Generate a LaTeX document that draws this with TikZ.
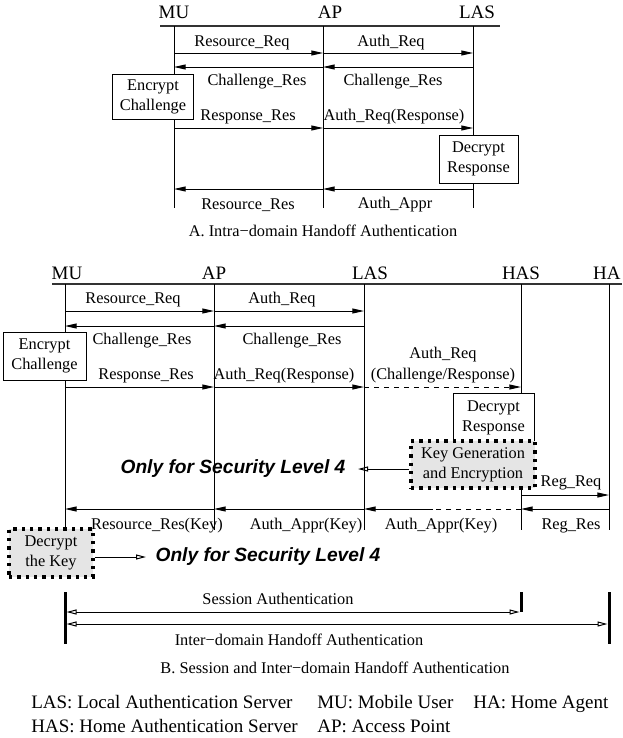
\documentclass[tikz,border=0pt]{standalone}
\usepackage{fontspec}
\setmainfont{Liberation Serif}
\newfontfamily\notefont{Liberation Sans}
\usetikzlibrary{arrows.meta, positioning}
\tikzset{
    lifeline/.style={line width=0.6pt},
    headline/.style={line width=0.7pt, black!80},
    msg/.style={line width=0.6pt, -{Triangle[length=7pt, width=3pt]}},
    dashmsg/.style={line width=0.6pt, dash pattern=on 3pt off 3pt},
    openmsg/.style={line width=0.6pt, -{Triangle[open, length=6pt, width=3pt]}},
    spanmsg/.style={line width=0.6pt, {Triangle[open, length=6pt, width=3pt]}-{Triangle[open, length=6pt, width=3pt]}},
    lbl/.style={inner sep=0pt, font=\fontsize{9.8}{12}\selectfont},
    head/.style={inner sep=0pt, font=\fontsize{11.4}{13}\selectfont},
    msgbox/.style={rectangle, draw, fill=white, line width=0.6pt, align=center, inner sep=1pt, font=\fontsize{9.8}{12}\selectfont},
    keybox/.style={msgbox, fill=black!10, line width=2pt, dash pattern=on 2pt off 3pt},
    note/.style={inner sep=0pt, font=\notefont\fontsize{11.5}{13}\selectfont\bfseries\itshape},
    legend/.style={inner sep=0pt, anchor=base west, font=\fontsize{11.4}{13}\selectfont},
    bar/.style={line width=1.8pt}
}

\begin{document}
\begin{tikzpicture}[x=0.6pt, y=-0.6pt]
  \useasboundingbox (0,0) rectangle (622,738);
  % A. intra-domain
  \node[head] (muLabA) at (174,12) {MU};
  \node[head] (apLabA) at (330,12) {AP};
  \node[head] (lasLabA) at (477,12) {LAS};
  \coordinate (muA) at (174,26);
  \coordinate (apA) at (323,26);
  \coordinate (lasA) at (473,26);
  \coordinate (endA) at (0,208);
  \coordinate (a1) at (0,53);
  \coordinate (a2) at (0,67);
  \coordinate (a3) at (0,128);
  \coordinate (a4) at (0,189);
  \draw[headline] (160,26) -- (500,26);
  \draw[lifeline] (muA) -- (muA |- endA);
  \draw[lifeline] (apA) -- (apA |- endA);
  \draw[lifeline] (lasA) -- (lasA |- endA);
  \draw[msg] (muA |- a1) -- (apA |- a1);
  \draw[msg] (apA |- a1) -- (lasA |- a1);
  \draw[msg] (apA |- a2) -- (muA |- a2);
  \draw[msg] (lasA |- a2) -- (apA |- a2);
  \draw[msg] (muA |- a3) -- (apA |- a3);
  \draw[msg] (apA |- a3) -- (lasA |- a3);
  \draw[msg] (apA |- a4) -- (muA |- a4);
  \draw[msg] (lasA |- a4) -- (apA |- a4);
  \node[lbl] (resReqA) at (242,43) {Resource\_Req};
  \node[lbl] (authReqA) at (391,43) {Auth\_Req};
  \node[lbl] (chalA) at (257,82) {Challenge\_Res};
  \node[lbl] (chalLasA) at (393,82) {Challenge\_Res};
  \node[lbl] (respA) at (248,117) {Response\_Res};
  \node[lbl] (authRespA) at (394,117) {Auth\_Req(Response)};
  \node[lbl] (resResA) at (248,205) {Resource\_Res};
  \node[lbl] (apprA) at (395,205) {Auth\_Appr};
  \node[msgbox, minimum width=48.6pt, minimum height=27pt] (encA) at (153,97) {Encrypt\\Challenge};
  \node[msgbox, minimum width=47.4pt, minimum height=28.8pt] (decA) at (478.5,159) {Decrypt\\Response};
  \node[lbl] (capA) at (323,231) {A. Intra−domain Handoff Authentication};

  % B. session and inter-domain
  \node[head] (muLabB) at (67,273) {MU};
  \node[head] (apLabB) at (214,273) {AP};
  \node[head] (lasLabB) at (370,273) {LAS};
  \node[head] (hasLabB) at (521,273) {HAS};
  \node[head, anchor=east] (haLabB) at (621,273) {HA};
  \coordinate (muB) at (65,284);
  \coordinate (apB) at (214,284);
  \coordinate (lasB) at (364,284);
  \coordinate (hasB) at (521,284);
  \coordinate (haB) at (609,284);
  \coordinate (endB) at (0,530);
  \coordinate (b1) at (0,311);
  \coordinate (b2) at (0,326);
  \coordinate (b3) at (0,387);
  \coordinate (b4) at (0,495);
  \coordinate (b5) at (0,509);
  \draw[headline] (52,284) -- (622,284);
  \draw[lifeline] (muB) -- (muB |- endB);
  \draw[lifeline] (apB) -- (apB |- endB);
  \draw[lifeline] (lasB) -- (lasB |- endB);
  \draw[lifeline] (hasB) -- (hasB |- endB);
  \draw[lifeline] (haB) -- (haB |- endB);
  \draw[msg] (muB |- b1) -- (apB |- b1);
  \draw[msg] (apB |- b1) -- (lasB |- b1);
  \draw[msg] (apB |- b2) -- (muB |- b2);
  \draw[msg] (lasB |- b2) -- (apB |- b2);
  \draw[msg] (muB |- b3) -- (apB |- b3);
  \draw[msg] (apB |- b3) -- (lasB |- b3);
  \draw[msg, dash pattern=on 3pt off 3pt] (lasB |- b3) -- (hasB |- b3);
  \draw[msg] (hasB |- b4) -- (haB |- b4);
  \draw[msg] (haB |- b5) -- (hasB |- b5);
  \coordinate (split) at (433,509);
  \draw[dashmsg] (hasB |- b5) -- (split);
  \draw[msg] (split) -- (lasB |- b5);
  \draw[msg] (lasB |- b5) -- (apB |- b5);
  \draw[msg] (apB |- b5) -- (muB |- b5);
  \node[lbl] (resReqB) at (133,300) {Resource\_Req};
  \node[lbl] (authReqB) at (282,300) {Auth\_Req};
  \node[lbl] (chalB) at (142,341) {Challenge\_Res};
  \node[lbl] (chalLasB) at (292,341) {Challenge\_Res};
  \node[lbl] (respB) at (146,376) {Response\_Res};
  \node[lbl] (authRespB) at (284,376) {Auth\_Req(Response)};
  \node[lbl, align=center, font=\fontsize{9.8}{12.6}\selectfont] (authHasB) at (443,365.5) {Auth\_Req\\(Challenge/Response)};
  \node[lbl] (regReqB) at (571,483) {Reg\_Req};
  \node[lbl] (resResB) at (157,526) {Resource\_Res(Key)};
  \node[lbl] (apprApB) at (306,526) {Auth\_Appr(Key)};
  \node[lbl] (apprLasB) at (441,526) {Auth\_Appr(Key)};
  \node[lbl] (regResB) at (571,526) {Reg\_Res};
  \node[msgbox, minimum width=49.8pt, minimum height=28.8pt] (encB) at (44.5,356) {Encrypt\\Challenge};
  \node[msgbox, minimum width=48.6pt, minimum height=30pt] (decB) at (493.5,418) {Decrypt\\Response};
  \node[keybox, minimum width=74.4pt, minimum height=28.2pt] (keyGen) at (473,464.5) {Key Generation\\and Encryption};
  \node[keybox, minimum width=50.4pt, minimum height=28.8pt] (decKey) at (51,553) {Decrypt\\the Key};
  \node[note] (onlyA) at (233,469) {Only for Security Level 4};
  \node[note] (onlyB) at (268,557) {Only for Security Level 4};
  \coordinate (tipA) at (358,469);
  \coordinate (tipB) at (146,557);
  \draw[openmsg] (keyGen.west |- tipA) -- (tipA);
  \draw[openmsg] (decKey.east |- tipB) -- (tipB);

  % session / inter-domain span
  \coordinate (barTop) at (0,592);
  \coordinate (barBot) at (0,644);
  \coordinate (ses) at (0,612);
  \coordinate (inter) at (0,624);
  \draw[bar] (muB |- barTop) -- (muB |- barBot);
  \draw[bar] (hasB |- barTop) -- (hasB |- ses);
  \draw[bar] (haB |- barTop) -- (haB |- barBot);
  \draw[spanmsg] ([xshift=0.9pt]muB |- ses) -- ([xshift=-0.9pt]hasB |- ses);
  \draw[spanmsg] ([xshift=0.9pt]muB |- inter) -- ([xshift=-0.9pt]haB |- inter);
  \node[lbl] (sesLab) at (278,599) {Session Authentication};
  \node[lbl] (interLab) at (299,640) {Inter−domain Handoff Authentication};
  \node[lbl] (capB) at (335,668) {B. Session and Inter−domain Handoff Authentication};

  % legend
  \node[legend] (legLas) at (31,708) {LAS: Local Authentication Server};
  \node[legend] (legMu) at (317,708) {MU: Mobile User};
  \node[legend] (legHa) at (473,708) {HA: Home Agent};
  \node[legend] (legHas) at (31,732) {HAS: Home Authentication Server};
  \node[legend] (legAp) at (317,732) {AP: Access Point};
\end{tikzpicture}
\end{document}
